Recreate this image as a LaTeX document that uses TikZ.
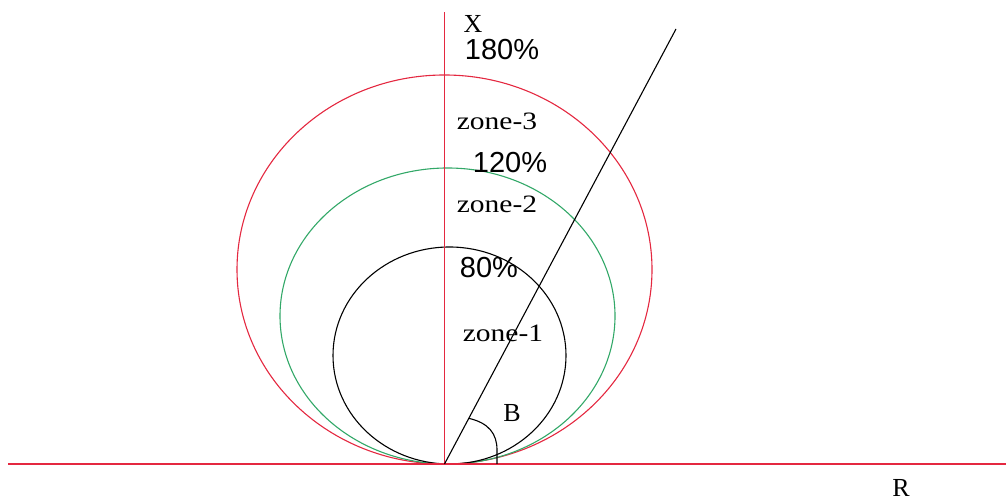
\documentclass[tikz,border=0pt]{standalone}
\usepackage{graphicx}
\usepackage{fontspec}
\setmainfont{Liberation Serif}
\newfontfamily\pctfont{Liberation Sans}
\usepackage{xcolor}
\usepackage{tikz}
\usetikzlibrary{calc}

\definecolor{axisred}{RGB}{228,40,64}
\definecolor{zonegreen}{RGB}{50,168,104}
\newcommand{\zonetext}[1]{\scalebox{1.18}[1]{#1}}

\begin{document}
\begin{tikzpicture}[x=1pt, y=1pt, line width=1.1pt,
        axisline/.style={draw=axisred, line width=1.6pt},
        zonelabel/.style={font=\fontsize{25}{25}\selectfont, inner sep=0pt},
        pctlabel/.style={font=\pctfont\fontsize{29}{29}\selectfont, inner sep=0pt},
        axislabel/.style={font=\fontsize{26}{26}\selectfont, inner sep=0pt}]
        \useasboundingbox (0,0) rectangle (1006,502);

        % axes
        \coordinate (O)      at (444.5,38);
        \coordinate (Rleft)  at (8,38);
        \coordinate (Rright) at (1006,38);
        \coordinate (Xtop)   at (444.5,490);
        \coordinate (Btop)   at (676,473);

        % zones
        \draw[axisred]   (444.5,232.5) ellipse [x radius=207.5, y radius=194.5];
        \draw[zonegreen] (447.5,186)   ellipse [x radius=167.5, y radius=148];
        \draw            (449.5,146.5) ellipse [x radius=116.5, y radius=108.5];

        \draw[axisline] (Rleft) -- (Rright);
        \draw[axisline] (O) -- (Xtop);
        \draw (O) -- (Btop);

        % angle mark
        \coordinate (Bstart) at ($(O)!0.105!(Btop)$);
        \coordinate (Bend)   at (497,38);
        \draw (Bstart) .. controls (489,79) and (497,68) .. (497,52) -- (Bend);

        \node[axislabel] (X) at (473,478)  {X};
        \node[axislabel] (R) at (901,14.5) {R};
        \node[axislabel] (B) at (512,89)   {B};

        \node[pctlabel] (p180) at (502,452) {180\%};
        \node[pctlabel] (p120) at (510,339) {120\%};
        \node[pctlabel] (p80)  at (489,234) {80\%};

        \node[zonelabel] (z3) at (497,381) {\zonetext{zone-3}};
        \node[zonelabel] (z2) at (497,298) {\zonetext{zone-2}};
        \node[zonelabel] (z1) at (503,169) {\zonetext{zone-1}};

    \end{tikzpicture}
\end{document}
